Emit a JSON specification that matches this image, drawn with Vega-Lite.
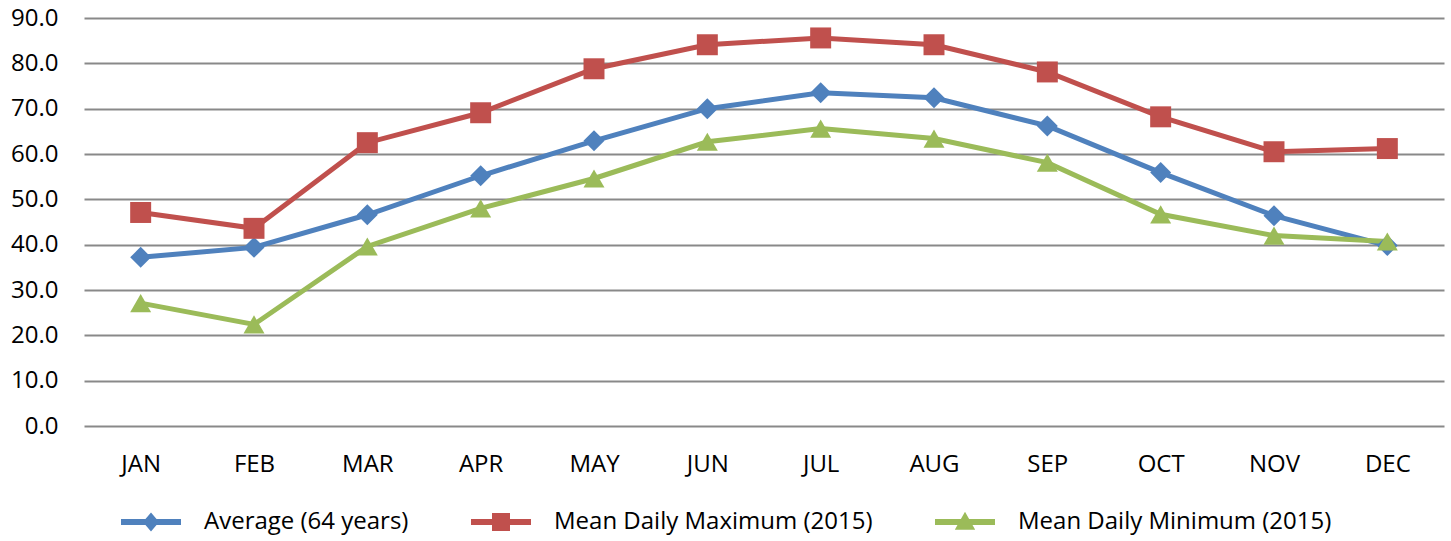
{
  "$schema": "https://vega.github.io/schema/vega-lite/v6.json",
  "width": 1360,
  "height": 408,
  "autosize": {"type": "none"},
  "padding": {"left": 84, "top": 18, "right": 7, "bottom": 115},
  "background": "white",
  "config": {
    "font": "Open Sans",
    "view": {"stroke": null}
  },
  "data": {
    "values": [
      {"month": "JAN", "series": "Average (64 years)", "group": "avg", "value": 37.2},
      {"month": "FEB", "series": "Average (64 years)", "group": "avg", "value": 39.4},
      {"month": "MAR", "series": "Average (64 years)", "group": "avg", "value": 46.6},
      {"month": "APR", "series": "Average (64 years)", "group": "avg", "value": 55.2},
      {"month": "MAY", "series": "Average (64 years)", "group": "avg", "value": 62.9},
      {"month": "JUN", "series": "Average (64 years)", "group": "avg", "value": 70.0},
      {"month": "JUL", "series": "Average (64 years)", "group": "avg", "value": 73.5},
      {"month": "AUG", "series": "Average (64 years)", "group": "avg", "value": 72.4},
      {"month": "SEP", "series": "Average (64 years)", "group": "avg", "value": 66.2},
      {"month": "OCT", "series": "Average (64 years)", "group": "avg", "value": 55.9},
      {"month": "NOV", "series": "Average (64 years)", "group": "avg", "value": 46.4},
      {"month": "DEC", "series": "Average (64 years)", "group": "avg", "value": 39.8},
      {"month": "JAN", "series": "Mean Daily Maximum (2015)", "group": "max", "value": 47.1},
      {"month": "FEB", "series": "Mean Daily Maximum (2015)", "group": "max", "value": 43.6},
      {"month": "MAR", "series": "Mean Daily Maximum (2015)", "group": "max", "value": 62.5},
      {"month": "APR", "series": "Mean Daily Maximum (2015)", "group": "max", "value": 69.1},
      {"month": "MAY", "series": "Mean Daily Maximum (2015)", "group": "max", "value": 78.8},
      {"month": "JUN", "series": "Mean Daily Maximum (2015)", "group": "max", "value": 84.1},
      {"month": "JUL", "series": "Mean Daily Maximum (2015)", "group": "max", "value": 85.6},
      {"month": "AUG", "series": "Mean Daily Maximum (2015)", "group": "max", "value": 84.1},
      {"month": "SEP", "series": "Mean Daily Maximum (2015)", "group": "max", "value": 78.1},
      {"month": "OCT", "series": "Mean Daily Maximum (2015)", "group": "max", "value": 68.2},
      {"month": "NOV", "series": "Mean Daily Maximum (2015)", "group": "max", "value": 60.5},
      {"month": "DEC", "series": "Mean Daily Maximum (2015)", "group": "max", "value": 61.2},
      {"month": "JAN", "series": "Mean Daily Minimum (2015)", "group": "min", "value": 27.1},
      {"month": "FEB", "series": "Mean Daily Minimum (2015)", "group": "min", "value": 22.4},
      {"month": "MAR", "series": "Mean Daily Minimum (2015)", "group": "min", "value": 39.6},
      {"month": "APR", "series": "Mean Daily Minimum (2015)", "group": "min", "value": 48.0},
      {"month": "MAY", "series": "Mean Daily Minimum (2015)", "group": "min", "value": 54.6},
      {"month": "JUN", "series": "Mean Daily Minimum (2015)", "group": "min", "value": 62.7},
      {"month": "JUL", "series": "Mean Daily Minimum (2015)", "group": "min", "value": 65.6},
      {"month": "AUG", "series": "Mean Daily Minimum (2015)", "group": "min", "value": 63.4},
      {"month": "SEP", "series": "Mean Daily Minimum (2015)", "group": "min", "value": 58.1},
      {"month": "OCT", "series": "Mean Daily Minimum (2015)", "group": "min", "value": 46.7},
      {"month": "NOV", "series": "Mean Daily Minimum (2015)", "group": "min", "value": 42.0},
      {"month": "DEC", "series": "Mean Daily Minimum (2015)", "group": "min", "value": 40.7}
    ]
  },
  "encoding": {
    "x": {
      "field": "month",
      "type": "nominal",
      "sort": ["JAN","FEB","MAR","APR","MAY","JUN","JUL","AUG","SEP","OCT","NOV","DEC"],
      "axis": {
        "title": null,
        "labelAngle": 0,
        "labelFontSize": 24,
        "labelColor": "#000000",
        "labelPadding": 26,
        "ticks": false,
        "domain": false,
        "grid": false
      }
    },
    "y": {
      "field": "value",
      "type": "quantitative",
      "scale": {"domain": [0, 90], "nice": false, "zero": true},
      "axis": {
        "title": null,
        "values": [0,10,20,30,40,50,60,70,80,90],
        "format": ".1f",
        "labelFontSize": 24,
        "labelColor": "#000000",
        "labelPadding": 26,
        "ticks": false,
        "domain": false,
        "grid": true,
        "gridColor": "#898989",
        "gridWidth": 2
      }
    },
    "color": {
      "field": "series",
      "type": "nominal",
      "scale": {
        "domain": ["Average (64 years)", "Mean Daily Maximum (2015)", "Mean Daily Minimum (2015)"],
        "range": ["#4F81BD", "#C0504D", "#9BBB59"]
      },
      "legend": {
        "title": null,
        "orient": "none",
        "direction": "horizontal",
        "legendX": 37,
        "legendY": 474,
        "symbolSize": 3600,
        "symbolStrokeWidth": 0,
        "labelFontSize": 24,
        "labelColor": "#000000",
        "labelOffset": 23,
        "columnPadding": 62,
        "labelLimit": 600,
        "encode": {
          "symbols": {
            "update": {
              "shape": {"signal": "datum.value === 'Average (64 years)' ? 'M-1,-0.1H1V0.1H-1Z M0,-0.32L0.27,0L0,0.32L-0.27,0Z' : datum.value === 'Mean Daily Maximum (2015)' ? 'M-1,-0.1H1V0.1H-1Z M-0.3,-0.3H0.3V0.3H-0.3Z' : 'M-1,-0.1H1V0.1H-1Z M0,-0.34L0.34,0.26L-0.34,0.26Z'"},
              "opacity": {"value": 1}
            }
          }
        }
      }
    }
  },
  "layer": [
    {
      "mark": {"type": "line", "strokeWidth": 5}
    },
    {
      "mark": {"type": "point", "filled": true, "opacity": 1, "size": 440},
      "encoding": {
        "shape": {
          "field": "group",
          "type": "nominal",
          "scale": {
            "domain": ["avg", "max", "min"],
            "range": ["diamond", "square", "triangle-up"]
          },
          "legend": null
        }
      }
    }
  ]
}
